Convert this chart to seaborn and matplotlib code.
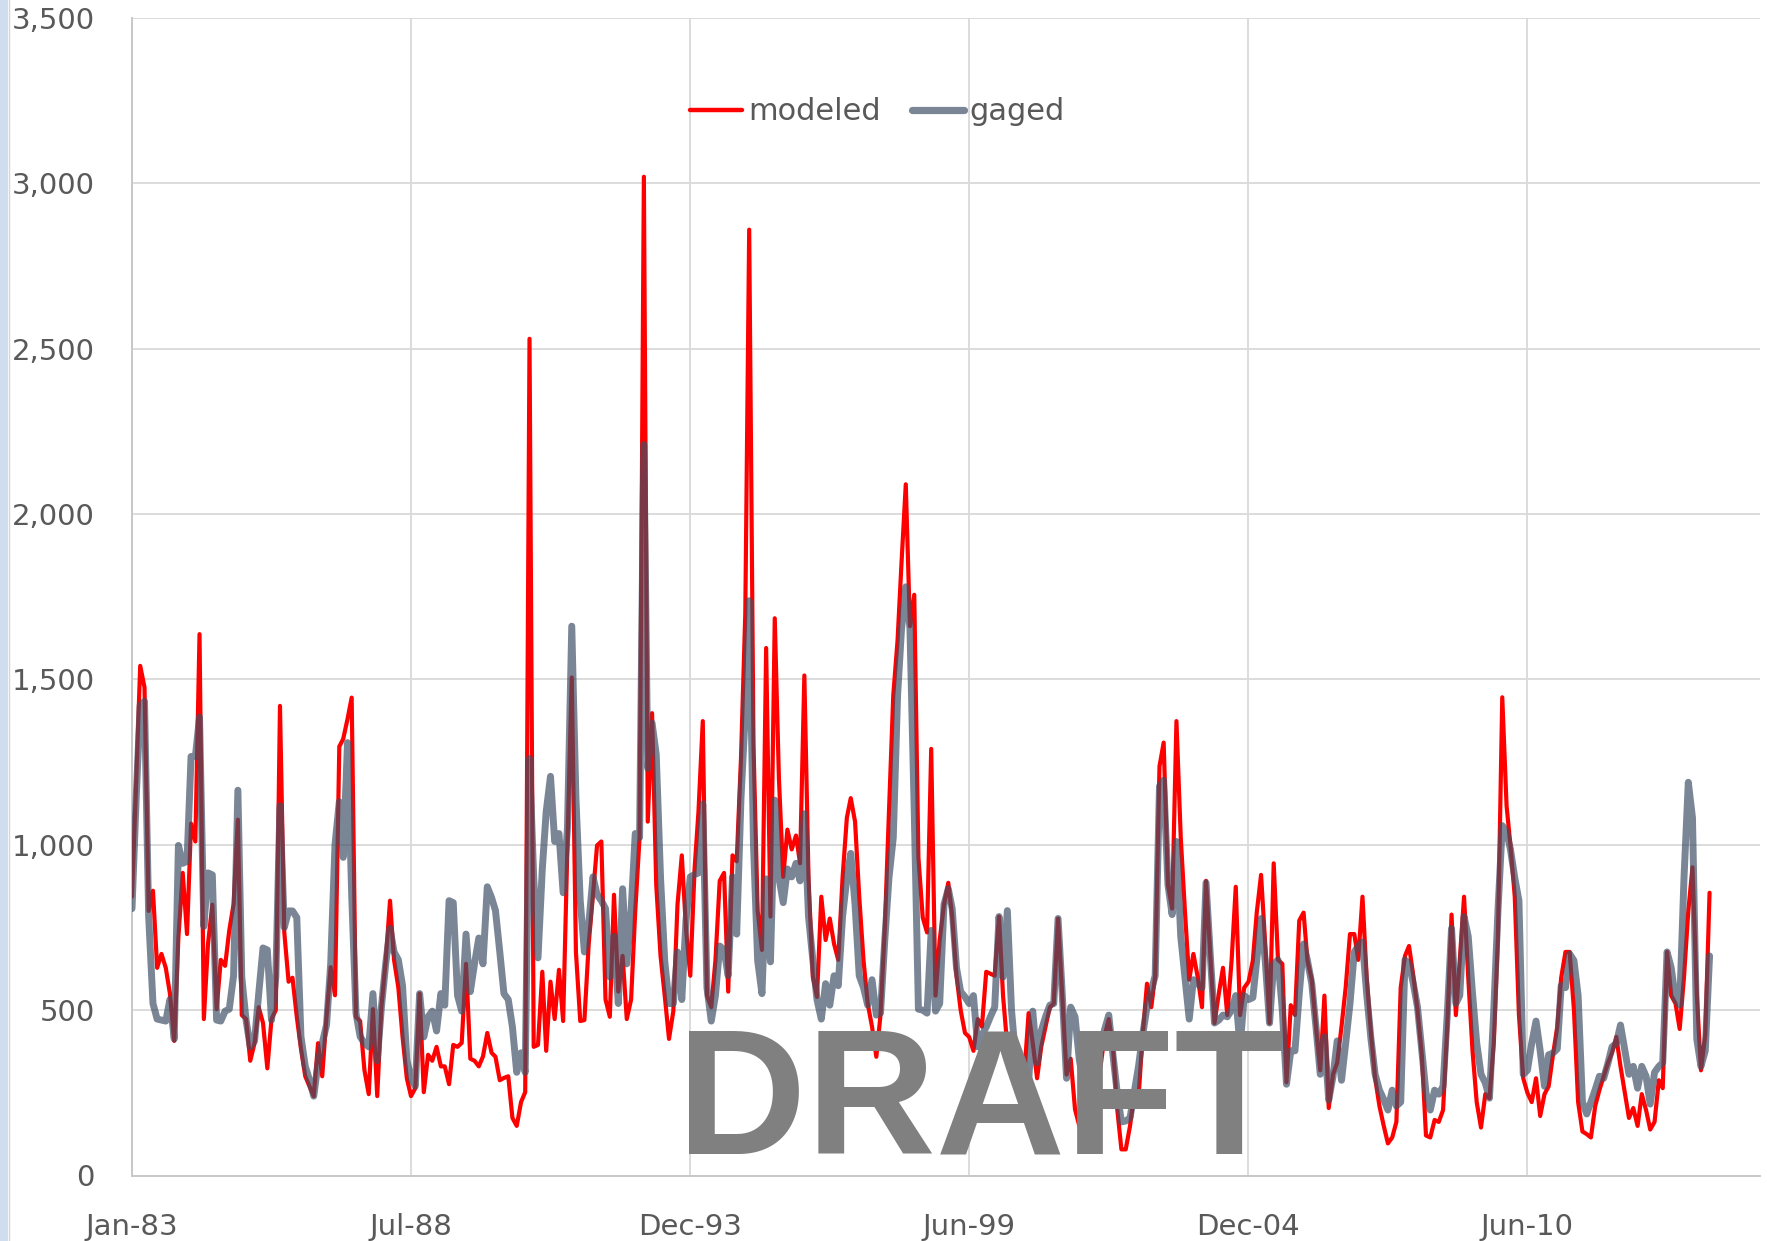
import matplotlib
matplotlib.use("Agg")
import matplotlib.pyplot as plt
import seaborn as sns
import pandas as pd
from matplotlib.ticker import FuncFormatter
from matplotlib.patches import Rectangle
from matplotlib.lines import Line2D

# ---------------- data (monthly, Jan-1983 onward) ----------------
start_month = "1983-01-01"

modeled = [
    843, 1200, 1541, 1476, 800, 861, 628, 670, 628, 550, 407, 720,
    915, 730, 1064, 1010, 1637, 473, 700, 819, 503, 652, 634, 741,
    820, 1076, 485, 473, 347, 400, 509, 461, 324, 473, 500, 1420,
    735, 586, 598, 480, 383, 300, 270, 240, 400, 300, 480, 630,
    545, 1297, 1320, 1380, 1445, 479, 467, 318, 246, 503, 240, 509,
    650, 831, 652, 568, 420, 294, 240, 264, 550, 252, 365, 347,
    389, 330, 330, 276, 395, 389, 401, 640, 353, 347, 330, 360,
    431, 371, 359, 288, 295, 300, 174, 150, 222, 252, 2530, 389,
    395, 616, 377, 586, 473, 622, 467, 1000, 1506, 676, 467, 470,
    700, 850, 998, 1010, 532, 480, 849, 556, 664, 473, 532, 800,
    1022, 3020, 1070, 1398, 879, 664, 544, 413, 497, 819, 968, 747,
    604, 927, 1100, 1374, 544, 509, 650, 891, 915, 556, 968, 950,
    1261, 1700, 2860, 1300, 800, 682, 1595, 783, 1685, 1200, 903, 1046,
    986, 1028, 944, 1512, 900, 600, 540, 843, 712, 777, 700, 652,
    900, 1082, 1141, 1070, 843, 650, 520, 450, 359, 485, 747, 1100,
    1452, 1619, 1850, 2090, 1661, 1756, 962, 780, 735, 1290, 544, 712,
    819, 885, 783, 604, 500, 431, 419, 377, 473, 450, 616, 610,
    604, 783, 544, 389, 305, 300, 300, 305, 491, 400, 294, 389,
    450, 509, 520, 777, 544, 305, 353, 200, 150, 250, 300, 350,
    330, 330, 420, 473, 389, 200, 79, 79, 150, 246, 234, 425,
    580, 509, 604, 1237, 1309, 879, 807, 1374, 1022, 800, 592, 670,
    600, 509, 891, 664, 461, 550, 628, 485, 650, 873, 485, 568,
    586, 650, 795, 909, 700, 461, 944, 652, 640, 282, 515, 485,
    771, 795, 650, 592, 450, 318, 544, 204, 306, 341, 450, 568,
    730, 730, 652, 843, 600, 431, 294, 210, 150, 97, 115, 162,
    568, 664, 694, 604, 500, 365, 121, 115, 168, 162, 198, 450,
    789, 485, 650, 843, 600, 377, 222, 145, 246, 234, 400, 723,
    1446, 1118, 998, 843, 485, 294, 250, 222, 294, 180, 246, 270,
    365, 450, 598, 676, 676, 500, 222, 133, 125, 115, 210, 258,
    300, 341, 371, 419, 330, 250, 174, 204, 150, 246, 198, 139,
    162, 288, 264, 676, 544, 520, 443, 600, 800, 932, 550, 318,
    425, 855,
]

gaged = [
    807, 1150, 1422, 1434, 783, 520, 473, 470, 467, 532, 413, 998,
    944, 950, 1267, 1267, 1386, 753, 915, 909, 470, 467, 497, 503,
    604, 1165, 600, 470, 389, 407, 550, 688, 682, 470, 600, 1118,
    750, 800, 800, 780, 420, 330, 290, 240, 340, 400, 455, 640,
    1000, 1130, 962, 1309, 850, 491, 420, 400, 389, 550, 347, 509,
    640, 747, 676, 652, 574, 350, 294, 270, 550, 419, 480, 497,
    437, 550, 515, 831, 825, 544, 497, 730, 556, 640, 718, 640,
    873, 840, 801, 676, 550, 532, 449, 312, 371, 312, 1261, 900,
    658, 927, 1100, 1207, 1010, 1034, 855, 1050, 1661, 1141, 831, 676,
    759, 903, 850, 831, 807, 600, 723, 520, 867, 640, 800, 1034,
    1022, 2210, 1231, 1368, 1273, 900, 650, 520, 520, 676, 532, 771,
    903, 910, 915, 1124, 568, 467, 544, 694, 682, 604, 903, 730,
    1141, 1400, 1738, 1000, 650, 550, 897, 646, 1135, 900, 825, 927,
    903, 944, 891, 1094, 783, 652, 532, 473, 580, 515, 604, 574,
    783, 900, 974, 819, 604, 568, 515, 592, 485, 491, 712, 900,
    1022, 1452, 1650, 1780, 1655, 1100, 503, 500, 491, 741, 497, 520,
    819, 867, 807, 628, 556, 540, 520, 544, 389, 425, 449, 480,
    509, 783, 600, 801, 500, 350, 320, 305, 282, 497, 341, 437,
    480, 515, 520, 777, 550, 294, 509, 480, 350, 280, 330, 400,
    420, 380, 440, 485, 365, 250, 162, 165, 174, 250, 330, 425,
    509, 560, 604, 1177, 1195, 879, 789, 1010, 723, 600, 473, 592,
    580, 568, 885, 664, 461, 470, 485, 480, 500, 544, 389, 544,
    532, 538, 650, 777, 650, 461, 640, 652, 500, 276, 377, 377,
    550, 700, 650, 580, 450, 306, 419, 228, 300, 407, 288, 400,
    520, 676, 694, 706, 550, 413, 306, 258, 230, 198, 258, 210,
    222, 652, 640, 580, 509, 377, 250, 198, 258, 246, 270, 485,
    747, 520, 544, 783, 723, 550, 401, 306, 280, 234, 500, 800,
    1058, 1040, 986, 900, 831, 306, 318, 400, 467, 377, 270, 365,
    370, 383, 574, 568, 670, 650, 544, 222, 186, 222, 260, 300,
    294, 340, 389, 400, 455, 380, 306, 330, 264, 330, 300, 216,
    312, 330, 341, 676, 628, 532, 515, 900, 1189, 1082, 413, 330,
    377, 664,
]

series_names = ["modeled", "gaged"]
y_ticks = [0, 500, 1000, 1500, 2000, 2500, 3000, 3500]
x_tick_labels = ["Jan-83", "Jul-88", "Dec-93", "Jun-99", "Dec-04", "Jun-10"]
watermark = "DRAFT"

# ---------------- build table ----------------
dates = pd.date_range(start_month, periods=len(modeled), freq="MS")
df = pd.DataFrame({"date": dates, "modeled": modeled, "gaged": gaged})

sns.set_theme(style="white")
plt.rcParams["font.family"] = ["DejaVu Sans"]

W, H = 1767, 1241
fig = plt.figure(figsize=(W / 100, H / 100), dpi=100)
fig.patch.set_facecolor("white")

left_px, right_px, top_px, bottom_px = 132, 1760, 18, 1175.5
ax = fig.add_axes([left_px / W, (H - bottom_px) / H,
                   (right_px - left_px) / W, (bottom_px - top_px) / H])

red = "#ff0000"
slate = (62 / 255, 80 / 255, 103 / 255)

sns.lineplot(data=df, x="date", y="modeled", ax=ax, color=red, linewidth=3.0,
             label=series_names[0], zorder=3)
sns.lineplot(data=df, x="date", y="gaged", ax=ax, color=slate, alpha=0.69,
             linewidth=5.0, label=series_names[1], zorder=4)
for ln in ax.lines:
    ln.set_solid_joinstyle("round")
    ln.set_solid_capstyle("round")

t0 = pd.Timestamp(start_month)
tick_pos = [t0 + pd.Timedelta(days=2008 * k) for k in range(len(x_tick_labels))]
ax.set_xlim(t0, t0 + pd.Timedelta(days=11717))
ax.set_xticks(tick_pos)
ax.set_xticklabels(x_tick_labels)

ax.set_ylim(0, 3500)
ax.set_yticks(y_ticks)
ax.yaxis.set_major_formatter(FuncFormatter(lambda v, p: f"{int(v):,}"))

ax.set_xlabel("")
ax.set_ylabel("")
ax.grid(True, color="#d9d9d9", linewidth=1.3)
ax.set_axisbelow(True)
for s in ["top", "right"]:
    ax.spines[s].set_visible(False)
for s in ["left", "bottom"]:
    ax.spines[s].set_color("#c8c8c8")
    ax.spines[s].set_linewidth(1.4)
ax.tick_params(axis="both", length=0, pad=27, labelsize=21, labelcolor="#595959")

handles = [Line2D([], [], color=red, linewidth=3.2),
           Line2D([], [], color=slate, alpha=0.69, linewidth=5.2)]
ax.legend(handles, series_names, loc="center", bbox_to_anchor=(0.458, 0.919),
          ncol=2, frameon=False, fontsize=22, handlelength=1.7,
          handletextpad=0.2, columnspacing=1.0, labelcolor="#595959")

fig.add_artist(Rectangle((0, 0), 8 / W, 1, transform=fig.transFigure,
                         facecolor="#cfdeee", edgecolor="none", zorder=1))
fig.add_artist(Line2D([9 / W, 9 / W], [0, 1], transform=fig.transFigure,
                      color="#d6d6d6", linewidth=1.0, zorder=1))

fig.text(980 / W, (H - 1153) / H, watermark, fontsize=129, fontweight="bold",
         color="#808080", ha="center", va="baseline",
         family=["Liberation Sans", "DejaVu Sans"], zorder=10)

fig.savefig("out.png", dpi=100)
